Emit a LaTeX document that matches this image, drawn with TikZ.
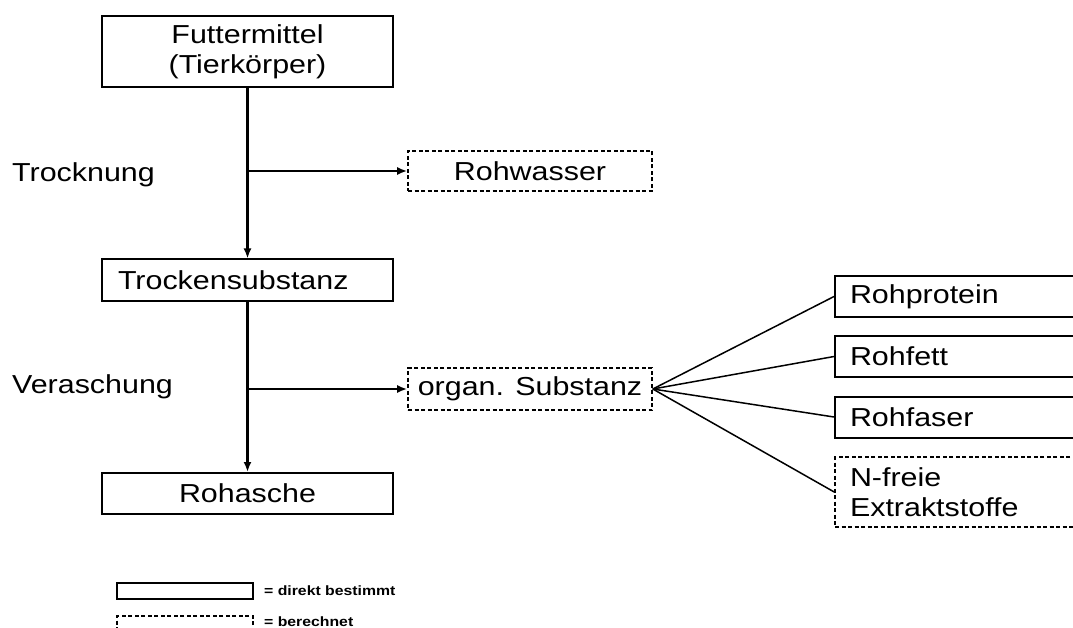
\documentclass[tikz,border=0pt]{standalone}
\usepackage{fontspec}
\setmainfont{Liberation Sans}[FakeStretch=1.17]
\usepackage{tikz}
\usetikzlibrary{arrows.meta}

\begin{document}
\begin{tikzpicture}[x=1pt, y=-1pt, font=\fontsize{26}{30}\selectfont,
    box/.style={draw, line width=2pt, minimum height=41pt, inner sep=0pt},
    calcbox/.style={box, line width=1.6pt, dash pattern=on 4pt off 2.5pt},
    part/.style={minimum width=245pt, text width=215pt, align=left},
    flow/.style={line width=2.4pt, -{Latex[length=10pt,width=8pt]}},
    fan/.style={line width=1.5pt},
    legend/.style={anchor=west, inner sep=0pt, font=\bfseries\fontsize{13.5}{16}\selectfont}]
    \useasboundingbox (0,0) rectangle (1073,628);
    \clip (0,0) rectangle (1073,628);

    % Main chain
    \node[box, minimum width=291pt, minimum height=71pt, align=center] (futter) at (247.5,51.5) {Futtermittel\\(Tierkörper)};
    \node[box, minimum width=291pt, text width=259pt, align=left] (trocken) at (247.5,280) {Trockensubstanz};
    \node[box, minimum width=291pt] (asche) at (247.5,493.5) {Rohasche};

    % Side products
    \node[calcbox, minimum width=244pt, minimum height=40pt] (wasser) at (530,171) {Rohwasser};
    \node[calcbox, minimum width=244pt, minimum height=42pt] (organ) at (530,389) {organ. Substanz};

    % Weender fractions
    \node[box, part] (protein) at (957.5,296.5) {Rohprotein};
    \node[box, part] (fett) at (957.5,356.5) {Rohfett};
    \node[box, part] (faser) at (957.5,417) {Rohfaser};
    \node[calcbox, part, minimum height=70pt] (nfrei) at (957.5,492) {N-freie\\Extraktstoffe};

    % Steps
    \node[anchor=west, inner sep=0pt] (trocknung) at (12,175) {Trocknung};
    \node[anchor=west, inner sep=0pt] (veraschung) at (12,387) {Veraschung};

    % Arrows
    \draw[flow] (futter) -- (trocken);
    \coordinate (b1) at (futter.south |- wasser.west);
    \draw[flow] (b1) -- (wasser);
    \draw[flow] (trocken) -- (asche);
    \coordinate (b2) at (trocken.south |- organ.west);
    \draw[flow] (b2) -- (organ);
    \foreach \n in {protein,fett,faser,nfrei}
        \draw[fan] (organ.east) -- (\n.west);

    % Legend
    \node[box, line width=1.4pt, minimum width=136pt, minimum height=16pt] (legsolid) at (185,591) {};
    \node[calcbox, line width=1.2pt, minimum width=136pt, minimum height=16pt] (legdash) at (185,624) {};
    \node[legend] (legtext1) at (264,591) {= direkt bestimmt};
    \node[legend] (legtext2) at (264,622) {= berechnet};
\end{tikzpicture}
\end{document}
